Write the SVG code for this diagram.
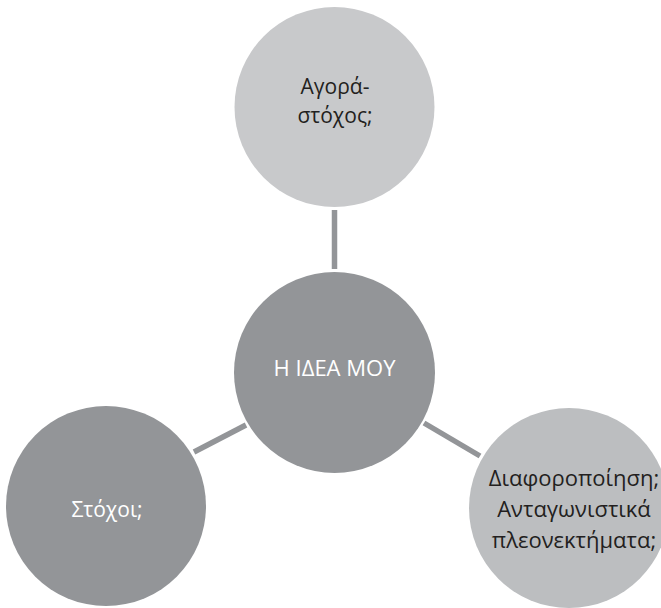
<svg xmlns="http://www.w3.org/2000/svg" width="661" height="608" viewBox="0 0 661 608">
  <style>
    .conn { stroke: #939598; stroke-width: 5.5; fill: none; }
    .lbl { font-family: "Open Sans", "Noto Sans", "DejaVu Sans", sans-serif; font-size: 21px; text-anchor: middle; }
    .big { font-size: 22px; }
    .dark { fill: #231f20; }
    .light { fill: #ffffff; }
  </style>
  <rect width="661" height="608" fill="#ffffff"/>
  <g id="connectors">
    <line class="conn" x1="334.5" y1="210" x2="334.5" y2="269"/>
    <line class="conn" x1="194" y1="452" x2="246" y2="425"/>
    <line class="conn" x1="424" y1="423" x2="480" y2="456"/>
  </g>
  <g id="node-top">
    <circle cx="334.5" cy="107" r="100" fill="#c8c9cb"/>
    <text class="lbl dark" x="335" y="94">Αγορά-</text>
    <text class="lbl dark" x="335" y="123">στόχος;</text>
  </g>
  <g id="node-center">
    <circle cx="334.5" cy="372.5" r="100.5" fill="#939598"/>
    <text class="lbl big light" x="334.5" y="376">Η ΙΔΕΑ ΜΟΥ</text>
  </g>
  <g id="node-left">
    <circle cx="106" cy="506" r="100" fill="#939598"/>
    <text class="lbl light" x="107" y="517">Στόχοι;</text>
  </g>
  <g id="node-right">
    <circle cx="569" cy="508" r="100" fill="#bcbec0"/>
    <text class="lbl big dark" x="574" y="486">Διαφοροποίηση;</text>
    <text class="lbl big dark" x="574" y="517">Ανταγωνιστικά</text>
    <text class="lbl big dark" x="574" y="548">πλεονεκτήματα;</text>
  </g>
</svg>
